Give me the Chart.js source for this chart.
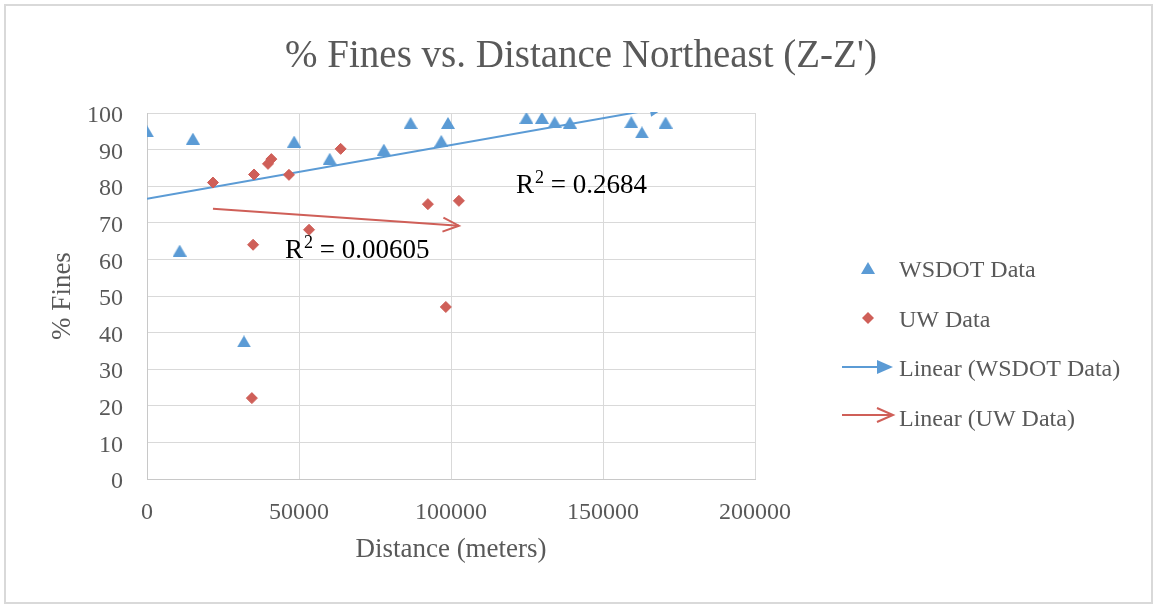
<!DOCTYPE html>
<html>
<head>
<meta charset="utf-8">
<script src="https://cdn.jsdelivr.net/npm/chart.js@4.4.1/dist/chart.umd.min.js"></script>
<style>
html,body{margin:0;padding:0;background:#fff;}
canvas{display:block;}
</style>
</head>
<body>
<canvas id="c" width="1153" height="605"></canvas>
<script>
// ---- text ----
const titleText = "% Fines vs. Distance Northeast (Z-Z')";
const xAxisTitle = "Distance (meters)";
const yAxisTitle = "% Fines";
const seriesNames = ["WSDOT Data", "UW Data", "Linear (WSDOT Data)", "Linear (UW Data)"];
const r2Values = ["0.2684", "0.00605"];

// ---- axis ticks ----
const xTicks = [0, 50000, 100000, 150000, 200000];
const yTicks = [0, 10, 20, 30, 40, 50, 60, 70, 80, 90, 100];

// ---- WSDOT data ----
const wsdotX = [0, 10750, 15100, 31900, 48400, 60100, 77900, 86700, 96800, 99000, 124800, 129900, 134100, 139100, 159300, 162800, 170600];
const wsdotY = [95.0, 62.4, 93.0, 37.6, 92.2, 87.5, 90.0, 97.3, 92.4, 97.3, 98.7, 98.7, 97.5, 97.4, 97.5, 94.7, 97.4];

// ---- UW data ----
const uwX = [21700, 35200, 39800, 40900, 46700, 63700, 53300, 34900, 92400, 102600, 98300, 34500];
const uwY = [81.0, 83.2, 86.1, 87.4, 83.1, 90.2, 68.1, 64.0, 75.1, 76.0, 47.0, 22.1];

// ---- linear trend lines (end points as shown) ----
const wsdotTrendX = [0, 170600];
const wsdotTrendY = [76.6, 101.6];
const uwTrendX = [21700, 102600];
const uwTrendY = [73.85, 69.2];

// ---- styling ----
const BLUE = '#5b9bd5';
const RED = '#cf5f58';
const GREY_TEXT = '#595959';
const GRID = '#d9d9d9';
const FONT = "'Liberation Serif', 'Times New Roman', serif";

function makeTriangle(color) {
  const c = document.createElement('canvas');
  c.width = 14; c.height = 12;
  const g = c.getContext('2d');
  g.fillStyle = color;
  g.beginPath();
  g.moveTo(7, 0);
  g.lineTo(14, 12);
  g.lineTo(0, 12);
  g.closePath();
  g.fill();
  return c;
}
const triImg = makeTriangle(BLUE);

const zip = (xs, ys) => xs.map((x, i) => ({x: x, y: ys[i]}));

function drawArrowHead(ctx, x, y, angle, color, filled) {
  const len = 16, half = 7;
  ctx.save();
  ctx.translate(x, y);
  ctx.rotate(angle);
  ctx.strokeStyle = color;
  ctx.fillStyle = color;
  ctx.lineWidth = 2;
  ctx.lineJoin = 'miter';
  ctx.beginPath();
  if (filled) {
    ctx.moveTo(0, 0);
    ctx.lineTo(-len, -half);
    ctx.lineTo(-len, half);
    ctx.closePath();
    ctx.fill();
  } else {
    ctx.moveTo(-len, -half);
    ctx.lineTo(0, 0);
    ctx.lineTo(-len, half);
    ctx.stroke();
  }
  ctx.restore();
}

function drawR2(ctx, x, baseline, value) {
  ctx.font = "27px " + FONT;
  ctx.fillText("R", x, baseline);
  let w = ctx.measureText("R").width + 1;
  ctx.font = "18px " + FONT;
  ctx.fillText("2", x + w, baseline - 10);
  w += ctx.measureText("2").width;
  ctx.font = "27px " + FONT;
  ctx.fillText(" = " + value, x + w, baseline);
}

const decorPlugin = {
  id: 'decor',
  beforeDraw(chart) {
    const ctx = chart.ctx;
    ctx.save();
    ctx.fillStyle = '#ffffff';
    ctx.fillRect(0, 0, chart.width, chart.height);
    ctx.strokeStyle = GRID;
    ctx.lineWidth = 2;
    ctx.strokeRect(5, 5, 1147, 598);
    ctx.restore();
  },
  afterDatasetsDraw(chart) {
    const ctx = chart.ctx;
    const a = chart.chartArea;
    ctx.save();
    ctx.beginPath();
    ctx.rect(a.left, a.top - 1, a.right - a.left, a.bottom - a.top + 1);
    ctx.clip();
    [[2, BLUE, true], [3, RED, false]].forEach(([idx, color, filled]) => {
      const pts = chart.getDatasetMeta(idx).data;
      const p0 = pts[pts.length - 2], p1 = pts[pts.length - 1];
      const ang = Math.atan2(p1.y - p0.y, p1.x - p0.x);
      drawArrowHead(ctx, p1.x, p1.y, ang, color, filled);
    });
    ctx.restore();
  },
  afterDraw(chart) {
    const ctx = chart.ctx;
    ctx.save();
    // title
    ctx.fillStyle = GREY_TEXT;
    ctx.font = "39px " + FONT;
    ctx.textAlign = 'center';
    ctx.textBaseline = 'alphabetic';
    ctx.fillText(titleText, 581, 67);

    // R² labels
    ctx.fillStyle = '#000000';
    ctx.textAlign = 'left';
    drawR2(ctx, 516, 193, r2Values[0]);
    drawR2(ctx, 285, 258, r2Values[1]);

    // legend
    const ds = chart.data.datasets;
    ctx.font = "24px " + FONT;
    ctx.fillStyle = GREY_TEXT;
    const textX = 899;
    const rows = [277, 327, 376, 426];
    rows.forEach((b, i) => ctx.fillText(ds[i].label, textX, b));
    // markers
    ctx.drawImage(triImg, 868 - 7, 268 - 6);
    ctx.fillStyle = RED;
    ctx.beginPath();
    ctx.moveTo(868 - 6, 318); ctx.lineTo(868, 312); ctx.lineTo(868 + 6, 318); ctx.lineTo(868, 324);
    ctx.closePath(); ctx.fill();
    // arrows
    ctx.lineWidth = 2;
    ctx.strokeStyle = BLUE;
    ctx.beginPath(); ctx.moveTo(842, 367); ctx.lineTo(880, 367); ctx.stroke();
    drawArrowHead(ctx, 893, 367, 0, BLUE, true);
    ctx.strokeStyle = RED;
    ctx.beginPath(); ctx.moveTo(842, 415); ctx.lineTo(892, 415); ctx.stroke();
    drawArrowHead(ctx, 893, 415, 0, RED, false);
    ctx.restore();
  }
};

Chart.defaults.font.family = FONT;
Chart.defaults.color = GREY_TEXT;

new Chart(document.getElementById('c'), {
  type: 'scatter',
  data: {
    datasets: [
      {
        label: seriesNames[0],
        data: zip(wsdotX, wsdotY),
        pointStyle: triImg,
        pointRadius: 7,
        pointHoverRadius: 7,
        backgroundColor: BLUE,
        borderColor: BLUE,
        order: 1
      },
      {
        label: seriesNames[1],
        data: zip(uwX, uwY),
        pointStyle: 'rectRot',
        pointRadius: 5.5,
        pointBorderWidth: 1,
        backgroundColor: RED,
        borderColor: RED,
        order: 1
      },
      {
        label: seriesNames[2],
        data: zip(wsdotTrendX, wsdotTrendY),
        showLine: true,
        borderColor: BLUE,
        borderWidth: 2,
        pointRadius: 0,
        fill: false,
        order: 2
      },
      {
        label: seriesNames[3],
        data: zip(uwTrendX, uwTrendY),
        showLine: true,
        borderColor: RED,
        borderWidth: 2,
        pointRadius: 0,
        fill: false,
        order: 2
      }
    ]
  },
  options: {
    responsive: false,
    animation: false,
    devicePixelRatio: 1,
    layout: { padding: { left: 0, top: 113, right: 398, bottom: 0 } },
    plugins: {
      legend: { display: false },
      title: { display: false },
      tooltip: { enabled: false }
    },
    scales: {
      x: {
        type: 'linear',
        min: xTicks[0],
        max: xTicks[xTicks.length - 1],
        afterBuildTicks: (s) => { s.ticks = xTicks.map(v => ({value: v})); },
        afterFit: (s) => { s.height = 126; },
        ticks: {
          padding: 19,
          color: GREY_TEXT,
          font: { size: 24 },
          callback: (v) => String(v)
        },
        grid: { color: GRID, lineWidth: 1, drawTicks: false },
        border: { color: '#c8c8c8', width: 1 },
        title: {
          display: true,
          text: xAxisTitle,
          color: GREY_TEXT,
          font: { size: 27 },
          padding: { top: 0, bottom: 39 }
        }
      },
      y: {
        type: 'linear',
        min: yTicks[0],
        max: yTicks[yTicks.length - 1],
        afterBuildTicks: (s) => { s.ticks = yTicks.map(v => ({value: v})); },
        afterFit: (s) => { s.width = 147; },
        ticks: {
          padding: 24,
          labelOffset: 3,
          color: GREY_TEXT,
          font: { size: 24 },
          callback: (v) => String(v)
        },
        grid: { color: GRID, lineWidth: 1, drawTicks: false },
        border: { color: '#c8c8c8', width: 1 },
        title: {
          display: true,
          text: yAxisTitle,
          color: GREY_TEXT,
          font: { size: 27 },
          padding: { top: 47, bottom: 0 }
        }
      }
    }
  },
  plugins: [decorPlugin]
});
</script>
</body>
</html>
